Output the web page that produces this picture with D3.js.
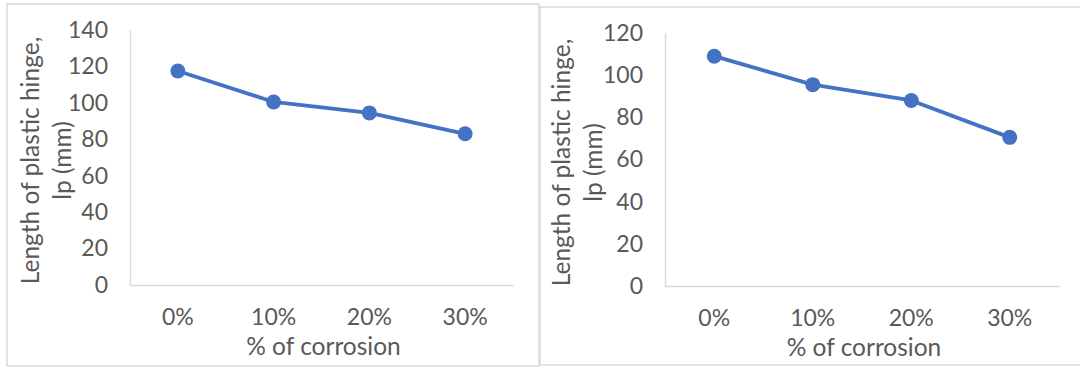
<!DOCTYPE html>
<html>
<head>
<meta charset="utf-8">
<script src="https://cdn.jsdelivr.net/npm/d3@7"></script>
<style>
  html, body { margin: 0; padding: 0; background: #ffffff; }
  svg { display: block; }
  text { font-family: Lato, "Open Sans", sans-serif; fill: #595959; }
</style>
</head>
<body>
<svg id="fig" width="1080" height="368"></svg>
<script>
// Shared categories (corrosion levels)
const categories = ["0%", "10%", "20%", "30%"];

// Plastic hinge length (mm), first specimen group
const hingeLengthA = [117.5, 100.5, 94.5, 83];
const yTicksA = [0, 20, 40, 60, 80, 100, 120, 140];

// Plastic hinge length (mm), second specimen group
const hingeLengthB = [109, 95.5, 88, 70.5];
const yTicksB = [0, 20, 40, 60, 80, 100, 120];

const xTitle = "% of corrosion";
const yTitleLines = ["Length of plastic hinge,", "lp (mm)"];

const svg = d3.select("#fig");
const AXIS = "#d9d9d9";
const LINE = "#4472C4";
const TICK_FONT = "23px";
const TITLE_FONT = "24.5px";

function drawPanel(opt) {
  const g = svg.append("g");

  // outer chart frame
  g.append("rect")
    .attr("x", opt.frame[0]).attr("y", opt.frame[1])
    .attr("width", opt.frame[2]).attr("height", opt.frame[3])
    .attr("fill", "#fff").attr("stroke", AXIS).attr("stroke-width", 1.5);

  const x = d3.scaleBand().domain(categories).range([opt.left, opt.right]);
  const y = d3.scaleLinear().domain([0, d3.max(opt.ticks)]).range([opt.bottom, opt.top]);

  // y axis: line plus labels, no tick marks
  const yAxis = g.append("g")
    .attr("transform", `translate(${opt.left},0)`)
    .call(d3.axisLeft(y).tickValues(opt.ticks).tickSize(0).tickPadding(22));
  yAxis.attr("font-size", null).attr("font-family", null);
  yAxis.select(".domain").attr("stroke", AXIS).attr("stroke-width", 1.5);
  yAxis.selectAll("text").style("font-size", TICK_FONT).attr("fill", "#595959");

  // x axis: baseline plus category labels
  const xAxis = g.append("g")
    .attr("transform", `translate(0,${opt.bottom})`)
    .call(d3.axisBottom(x).tickSize(0).tickPadding(24));
  xAxis.attr("font-size", null).attr("font-family", null);
  xAxis.select(".domain").attr("stroke", AXIS).attr("stroke-width", 1.5);
  xAxis.selectAll("text").style("font-size", TICK_FONT).attr("fill", "#595959");

  // axis titles
  g.append("text")
    .attr("x", (opt.left + opt.right) / 2 + 2)
    .attr("y", opt.bottom + 70)
    .attr("text-anchor", "middle")
    .style("font-size", TITLE_FONT)
    .text(xTitle);

  const yt = g.append("text")
    .attr("transform", `translate(${opt.titleX},${(opt.top + opt.bottom) / 2 + 3}) rotate(-90)`)
    .attr("text-anchor", "middle")
    .style("font-size", TITLE_FONT);
  yTitleLines.forEach((line, i) => {
    yt.append("tspan")
      .attr("x", 0)
      .attr("dy", i === 0 ? 0 : opt.titleGap)
      .text(line);
  });

  // data series
  const cx = d => x(d) + x.bandwidth() / 2;
  const line = d3.line()
    .x((d, i) => cx(categories[i]))
    .y(d => y(d));
  g.append("path")
    .datum(opt.values)
    .attr("d", line)
    .attr("fill", "none")
    .attr("stroke", LINE)
    .attr("stroke-width", 3.8)
    .attr("stroke-linejoin", "round");

  g.selectAll("circle.pt")
    .data(opt.values)
    .join("circle")
    .attr("class", "pt")
    .attr("cx", (d, i) => cx(categories[i]))
    .attr("cy", d => y(d))
    .attr("r", 7.5)
    .attr("fill", LINE);
}

drawPanel({
  frame: [7, 4, 532, 362],
  left: 130, right: 513, top: 30, bottom: 285,
  ticks: yTicksA, values: hingeLengthA, titleX: 39, titleGap: 32
});

drawPanel({
  frame: [540, 7, 545, 358],
  left: 665, right: 1059, top: 33, bottom: 286,
  ticks: yTicksB, values: hingeLengthB, titleX: 570, titleGap: 32
});
</script>
</body>
</html>
